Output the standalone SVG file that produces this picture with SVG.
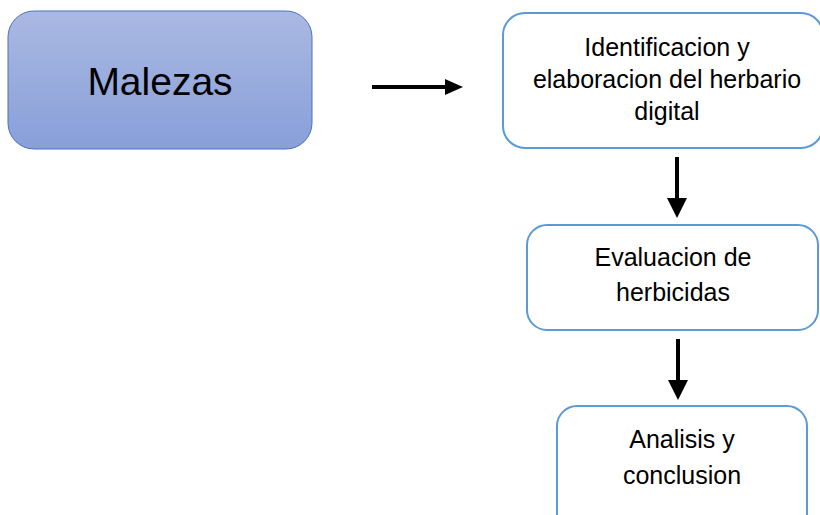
<svg xmlns="http://www.w3.org/2000/svg" width="820" height="515" viewBox="0 0 820 515">
<defs>
<linearGradient id="g1" x1="0" y1="0" x2="0" y2="1">
<stop offset="0" stop-color="#aab9e2"/>
<stop offset="1" stop-color="#889fd9"/>
</linearGradient>
</defs>
<style>
.box{fill:#ffffff;stroke:#5b9bd5;stroke-width:2}
.t{font-family:"Liberation Sans",Arial,sans-serif;font-size:25px;fill:#000;text-anchor:middle}
.ar{fill:#000}
</style>
<rect width="820" height="515" fill="#ffffff"/>
<g id="malezas">
<rect x="8" y="11" width="304" height="138" rx="26" fill="url(#g1)" stroke="#4a72c0" stroke-width="1"/>
<text x="160" y="95" class="t" style="font-size:39px">Malezas</text>
</g>
<g id="identificacion">
<rect x="503" y="13" width="320" height="135" rx="22" class="box"/>
<text class="t" x="667" y="56">Identificacion y</text>
<text class="t" x="667" y="88">elaboracion del herbario</text>
<text class="t" x="667" y="120">digital</text>
</g>
<g id="evaluacion">
<rect x="527" y="225" width="291" height="105" rx="20" class="box"/>
<text class="t" x="673" y="266">Evaluacion de</text>
<text class="t" x="673" y="301">herbicidas</text>
</g>
<g id="analisis">
<rect x="557" y="406" width="250" height="130" rx="20" class="box"/>
<text class="t" x="682" y="448">Analisis y</text>
<text class="t" x="682" y="484">conclusion</text>
</g>
<g id="connectors">
<path class="ar" d="M372 85 H445 V79 L463 87 L445 95 V89 H372 Z"/>
<path class="ar" d="M675 157 H679 V198 H687 L677 218 L667 198 H675 Z"/>
<path class="ar" d="M676 339 H680 V380 H688 L678 400 L668 380 H676 Z"/>
</g>
</svg>
